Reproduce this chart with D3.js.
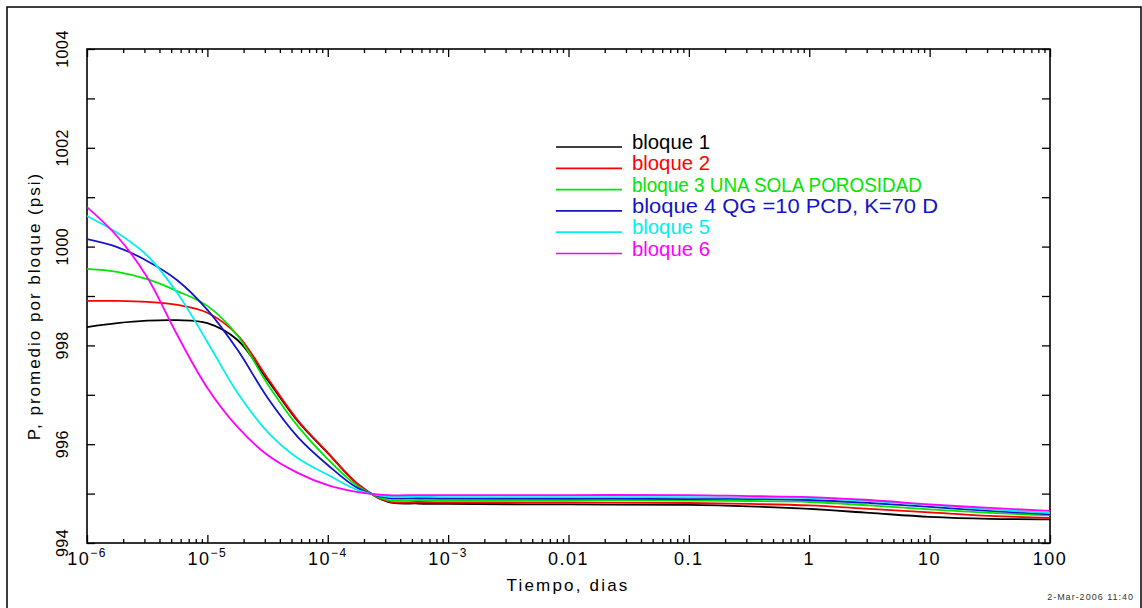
<!DOCTYPE html>
<html>
<head>
<meta charset="utf-8">
<script src="https://cdn.jsdelivr.net/npm/d3@7"></script>
<style>
  body { margin: 0; background: #fff; }
  svg { display: block; }
  text { font-family: "Liberation Sans", Arial, sans-serif; }
</style>
</head>
<body>
<div id="chart"></div>
<script>
// Width and height for the SVG
var width = 1142, height = 608;

// time in days (log axis)
var times = [1e-6, 1.78e-6, 3.16e-6, 5.62e-6, 1e-5, 1.78e-5, 3.16e-5, 5.62e-5,
             1e-4, 1.78e-4, 3.16e-4, 5.62e-4, 1e-3, 1e-2, 0.1, 0.316, 1, 3.16, 10, 31.6, 100];

// average pressure per block (psi)
var bloque1 = [998.37, 998.45, 998.50, 998.51, 998.45, 998.11, 997.30, 996.47, 995.82, 995.19, 994.83,
               994.80, 994.79, 994.78, 994.77, 994.74, 994.69, 994.61, 994.53, 994.49, 994.48];
var bloque2 = [998.90, 998.90, 998.88, 998.82, 998.66, 998.21, 997.34, 996.49, 995.83, 995.19, 994.84,
               994.83, 994.82, 994.82, 994.81, 994.79, 994.76, 994.69, 994.62, 994.55, 994.51];
var bloque3 = [999.55, 999.49, 999.34, 999.10, 998.80, 998.20, 997.22, 996.37, 995.70, 995.15, 994.87,
               994.87, 994.86, 994.87, 994.86, 994.85, 994.83, 994.76, 994.68, 994.61, 994.56];
var bloque4 = [1000.15, 999.99, 999.71, 999.32, 998.72, 997.91, 996.94, 996.15, 995.58, 995.11, 994.91,
               994.91, 994.90, 994.90, 994.89, 994.89, 994.87, 994.81, 994.73, 994.65, 994.58];
var bloque5 = [1000.62, 1000.28, 999.82, 999.06, 998.07, 997.04, 996.25, 995.72, 995.38, 995.07, 994.94,
               994.94, 994.93, 994.93, 994.93, 994.92, 994.91, 994.85, 994.77, 994.68, 994.61];
var bloque6 = [1000.80, 1000.21, 999.38, 998.21, 997.14, 996.35, 995.78, 995.42, 995.17, 995.03, 994.97,
               994.97, 994.97, 994.97, 994.97, 994.95, 994.93, 994.87, 994.78, 994.71, 994.65];

var seriesNames = ["bloque 1", "bloque 2", "bloque 3 UNA SOLA POROSIDAD",
                   "bloque 4 QG =10 PCD, K=70 D", "bloque 5", "bloque 6"];
var seriesValues = [bloque1, bloque2, bloque3, bloque4, bloque5, bloque6];
var seriesColors = ["#000000", "#ff0000", "#00e600", "#1414c8", "#00f0f0", "#ff00ff"];

// tick labels
var xTickValues = [1e-6, 1e-5, 1e-4, 1e-3, 0.01, 0.1, 1, 10, 100];
var xTickBase = ["10", "10", "10", "10", "0.01", "0.1", "1", "10", "100"];
var xTickExp = ["\u22126", "\u22125", "\u22124", "\u22123", "", "", "", "", ""];
var yTickValues = [994, 996, 998, 1000, 1002, 1004];

// plot box
var plotLeft = 87, plotRight = 1050, plotTop = 49, plotBottom = 543;

var svg = d3.select("#chart").append("svg")
    .attr("width", width)
    .attr("height", height);

// outer frame of the page
svg.append("rect")
    .attr("x", 7).attr("y", 7)
    .attr("width", 1134).attr("height", 620)
    .attr("fill", "none")
    .attr("stroke", "#000")
    .attr("stroke-width", 1.5);

var x = d3.scaleLog().domain([1e-6, 100]).range([plotLeft, plotRight]);
var y = d3.scaleLinear().domain([994, 1004]).range([plotBottom, plotTop]);

// minor ticks: 2..9 of each decade
var xMinor = [];
xTickValues.slice(0, -1).forEach(function(d) {
    for (var k = 2; k <= 9; k++) xMinor.push(d * k);
});
var yMinor = d3.range(995, 1004, 2);

function axisPair(axisFn, scale, values, size, translate) {
    svg.append("g")
        .attr("transform", translate)
        .call(axisFn(scale).tickValues(values).tickSize(size).tickFormat(""))
        .call(function(g) {
            g.select(".domain").remove();
            g.selectAll("line").attr("stroke", "#000").attr("stroke-width", 1.3);
        });
}

// ticks point inward on all four sides
axisPair(d3.axisBottom, x, xTickValues, -8, "translate(0," + plotBottom + ")");
axisPair(d3.axisBottom, x, xMinor, -4, "translate(0," + plotBottom + ")");
axisPair(d3.axisTop, x, xTickValues, -8, "translate(0," + plotTop + ")");
axisPair(d3.axisTop, x, xMinor, -4, "translate(0," + plotTop + ")");
axisPair(d3.axisLeft, y, yTickValues, -8, "translate(" + plotLeft + ",0)");
axisPair(d3.axisLeft, y, yMinor, -8, "translate(" + plotLeft + ",0)");
axisPair(d3.axisRight, y, yTickValues, -8, "translate(" + plotRight + ",0)");
axisPair(d3.axisRight, y, yMinor, -8, "translate(" + plotRight + ",0)");

// plot frame
svg.append("rect")
    .attr("x", plotLeft).attr("y", plotTop)
    .attr("width", plotRight - plotLeft).attr("height", plotBottom - plotTop)
    .attr("fill", "none")
    .attr("stroke", "#000")
    .attr("stroke-width", 1.6);

// curves
var line = d3.line()
    .x(function(d) { return x(d[0]); })
    .y(function(d) { return y(d[1]); })
    .curve(d3.curveCatmullRom.alpha(0.5));

svg.append("defs").append("clipPath").attr("id", "clip")
    .append("rect")
    .attr("x", plotLeft).attr("y", plotTop)
    .attr("width", plotRight - plotLeft).attr("height", plotBottom - plotTop);

svg.append("g")
    .attr("clip-path", "url(#clip)")
    .selectAll("path")
    .data(seriesValues)
    .enter()
    .append("path")
    .attr("d", function(vals) { return line(times.map(function(t, i) { return [t, vals[i]]; })); })
    .attr("fill", "none")
    .attr("stroke", function(d, i) { return seriesColors[i]; })
    .attr("stroke-width", 1.8);

// x tick labels
var xl = svg.append("g")
    .selectAll("text")
    .data(xTickValues)
    .enter()
    .append("text")
    .attr("x", function(d) { return x(d); })
    .attr("y", 565)
    .attr("text-anchor", "middle")
    .attr("font-size", 18)
    .attr("letter-spacing", 1.5)
    .attr("fill", "#000");
xl.append("tspan").text(function(d, i) { return xTickBase[i]; });
xl.append("tspan")
    .attr("dy", -8)
    .attr("font-size", 12)
    .text(function(d, i) { return xTickExp[i]; });

// y tick labels (rotated)
svg.append("g")
    .selectAll("text")
    .data(yTickValues)
    .enter()
    .append("text")
    .attr("transform", function(d) { return "translate(68," + y(d) + ") rotate(-90)"; })
    .attr("text-anchor", "middle")
    .attr("font-size", 16)
    .attr("letter-spacing", 0.5)
    .text(function(d) { return d; });

// axis titles
svg.append("text")
    .attr("x", 568).attr("y", 591)
    .attr("text-anchor", "middle")
    .attr("font-size", 17)
    .attr("letter-spacing", 2.2)
    .text("Tiempo, dias");

svg.append("text")
    .attr("transform", "translate(40,306) rotate(-90)")
    .attr("text-anchor", "middle")
    .attr("font-size", 17)
    .attr("letter-spacing", 2)
    .text("P, promedio por bloque (psi)");

// timestamp
svg.append("text")
    .attr("x", 1134).attr("y", 600)
    .attr("text-anchor", "end")
    .attr("font-size", 9)
    .attr("letter-spacing", 1)
    .attr("fill", "#333")
    .text("2-Mar-2006 11:40");

// legend
var legend = svg.append("g")
    .selectAll("g")
    .data(seriesNames)
    .enter()
    .append("g")
    .attr("transform", function(d, i) { return "translate(556," + (147 + i * 21.3) + ")"; });

legend.append("line")
    .attr("x1", 0).attr("x2", 66)
    .attr("y1", 0).attr("y2", 0)
    .attr("stroke", function(d, i) { return seriesColors[i]; })
    .attr("stroke-width", 1.7);

legend.append("text")
    .attr("x", 76).attr("y", 2)
    .attr("font-family", "'Liberation Sans Narrow', 'DejaVu Sans Condensed', sans-serif")
    .attr("font-size", 20)
    .attr("fill", function(d, i) { return seriesColors[i]; })
    .attr("textLength", function(d, i) { return [78, 78, 290, 306, 78, 78][i]; })
    .attr("lengthAdjust", "spacingAndGlyphs")
    .text(function(d) { return d; });
</script>
</body>
</html>
